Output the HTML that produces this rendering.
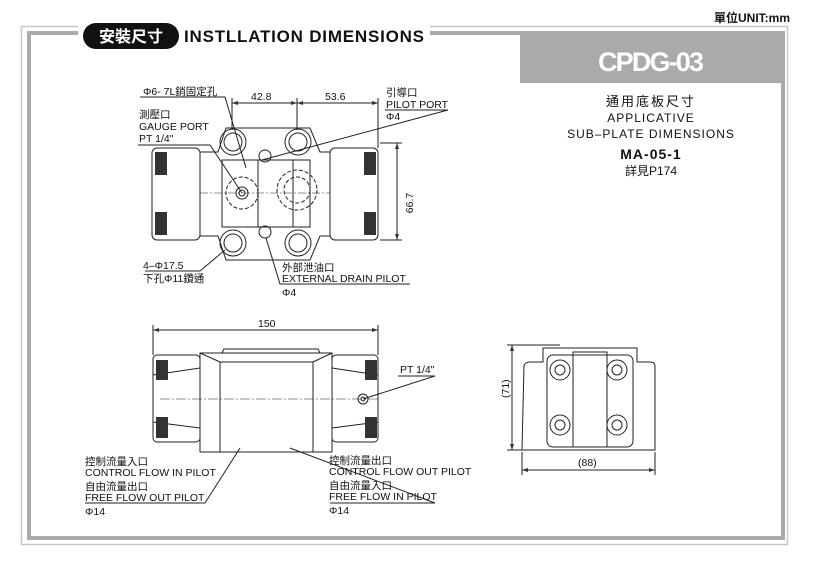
<!DOCTYPE html>
<html><head><meta charset="utf-8"><style>
body{margin:0;background:#fff;width:824px;height:572px;overflow:hidden}
svg text{font-family:"Liberation Sans","Noto Sans CJK TC",sans-serif;fill:#111}
</style></head><body>
<svg width="824" height="572" viewBox="0 0 824 572" xmlns="http://www.w3.org/2000/svg">
<!-- frame -->
<rect x="21.5" y="26.5" width="766" height="518" fill="none" stroke="#c8c8c8" stroke-width="1.5"/>
<rect x="29" y="33" width="754" height="505" fill="none" stroke="#aaa" stroke-width="4"/>
<rect x="78" y="20" width="352" height="30" fill="#fff"/>
<rect x="83" y="23" width="96" height="26" rx="13" fill="#111"/>
<text x="131" y="42" text-anchor="middle" font-size="16" font-weight="bold" style="fill:#fff">安裝尺寸</text>
<text x="184" y="42" font-size="17" font-weight="bold" textLength="240">INSTLLATION DIMENSIONS</text>
<text x="790" y="22" text-anchor="end" font-size="12" font-weight="bold">單位UNIT:mm</text>
<rect x="520" y="31" width="262" height="52" fill="#aaa"/>
<text x="651" y="71" text-anchor="middle" font-size="27" font-weight="bold" style="fill:#fff" textLength="106">CPDG-03</text>
<text x="651" y="106" text-anchor="middle" font-size="13" letter-spacing="2">通用底板尺寸</text>
<text x="651" y="122" text-anchor="middle" font-size="12" letter-spacing="1">APPLICATIVE</text>
<text x="651" y="138" text-anchor="middle" font-size="12" letter-spacing="1">SUB–PLATE DIMENSIONS</text>
<text x="651" y="159" text-anchor="middle" font-size="14" font-weight="bold" letter-spacing="1">MA-05-1</text>
<text x="651" y="175" text-anchor="middle" font-size="12">詳見P174</text>

<g fill="none" stroke="#222" stroke-width="1">
<!-- top view -->
<rect x="152" y="148" width="48" height="92" rx="5"/>
<rect x="330" y="148" width="48" height="92" rx="5"/>
<path d="M218 152 L226 128 L310 128 L320 152 L330 152 L330 236 L320 236 L310 260 L226 260 L218 236 L200 236 L200 152 Z"/>
<rect x="222" y="160" width="88" height="67"/>
<line x1="258" y1="160" x2="258" y2="227"/><line x1="293" y1="160" x2="293" y2="227"/>
<circle cx="233" cy="142" r="13"/><circle cx="233" cy="142" r="9"/>
<circle cx="298" cy="142" r="13"/><circle cx="298" cy="142" r="9"/>
<circle cx="233" cy="243" r="13"/><circle cx="233" cy="243" r="9"/>
<circle cx="298" cy="243" r="13"/><circle cx="298" cy="243" r="9"/>
<circle cx="242" cy="193" r="16" stroke-dasharray="4 2"/><circle cx="242" cy="193" r="6"/><circle cx="242" cy="193" r="3"/>
<circle cx="297" cy="190" r="20" stroke-dasharray="4 2"/><circle cx="297" cy="190" r="13" stroke-dasharray="4 2"/>
<circle cx="265" cy="156" r="6"/><circle cx="265" cy="232" r="6"/>
<line x1="200" y1="193" x2="330" y2="193" stroke-dasharray="8 2 2 2" stroke-width=".6"/>
<!-- dims -->
<line x1="232" y1="103" x2="378" y2="103"/>
<line x1="232" y1="98" x2="232" y2="130"/><line x1="297" y1="98" x2="297" y2="130"/><line x1="378" y1="98" x2="378" y2="148"/>
<line x1="397" y1="143" x2="397" y2="240"/><line x1="380" y1="143" x2="402" y2="143"/><line x1="380" y1="240" x2="402" y2="240"/>
<!-- leaders -->
<polyline points="140,97 225,97 246,168"/>
<polyline points="385,110 448,110 262,160"/>
<polyline points="138,145 210,145 242,193"/>
<polyline points="145,271 200,271 225,250"/>
<polyline points="410,284 280,284 266,238"/>
<!-- front view -->
<line x1="153" y1="330" x2="378" y2="330"/><line x1="153" y1="325" x2="153" y2="355"/><line x1="378" y1="325" x2="378" y2="355"/>
<rect x="153" y="355" width="47" height="87" rx="4"/>
<rect x="332" y="355" width="46" height="87" rx="4"/>
<path d="M153 375 L200 368 M153 422 L200 428 M378 375 L332 368 M378 422 L332 428"/>
<rect x="200" y="353" width="132" height="99"/>
<path d="M222 353 L224 349 L318 349 L320 353"/>
<rect x="220" y="362" width="93" height="90"/>
<path d="M200 353 L220 362 M332 353 L313 362"/>
<line x1="160" y1="399" x2="380" y2="399" stroke-dasharray="10 2 2 2" stroke-width=".6"/>
<circle cx="363" cy="399" r="5"/><circle cx="363" cy="399" r="2"/>
<polyline points="398,376 435,376 363,399"/>
<polyline points="85,503 205,503 240,448"/>
<polyline points="330,503 435,503 290,448"/>
<!-- side view -->
<path d="M522 450 L524 366 Q525 362 530 362 L543 362 L543 348 L637 348 L637 362 L650 362 Q655 362 655 366 L655 450 Z"/>
<rect x="547" y="355" width="86" height="92" rx="6"/>
<rect x="573" y="352" width="34" height="95"/>
<circle cx="560" cy="370" r="10"/><circle cx="560" cy="370" r="5"/>
<circle cx="617" cy="370" r="10"/><circle cx="617" cy="370" r="5"/>
<circle cx="560" cy="425" r="10"/><circle cx="560" cy="425" r="5"/>
<circle cx="617" cy="425" r="10"/><circle cx="617" cy="425" r="5"/>
<line x1="512" y1="345" x2="512" y2="450"/><line x1="507" y1="345" x2="560" y2="345"/><line x1="507" y1="450" x2="522" y2="450"/>
<line x1="522" y1="470" x2="655" y2="470"/><line x1="522" y1="452" x2="522" y2="475"/><line x1="655" y1="452" x2="655" y2="475"/>
</g>
<g fill="#333">
<rect x="155" y="152" width="12" height="23"/><rect x="155" y="212" width="12" height="23"/>
<rect x="364" y="152" width="12" height="23"/><rect x="364" y="212" width="12" height="23"/>
<rect x="156" y="360" width="12" height="20"/><rect x="156" y="417" width="12" height="21"/>
<rect x="365" y="360" width="12" height="20"/><rect x="365" y="417" width="12" height="21"/>
<path d="M232 103 l6 -2 v4z M297 103 l-6 -2 v4z M297 103 l6 -2 v4z M378 103 l-6 -2 v4z M397 143 l-2 6 h4z M397 240 l-2 -6 h4z M153 330 l6 -2 v4z M378 330 l-6 -2 v4z M512 345 l-2 6 h4z M512 450 l-2 -6 h4z M522 470 l6 -2 v4z M655 470 l-6 -2 v4z"/>
</g>
<g font-size="10.5">
<text x="143" y="95">Φ6- 7L銷固定孔</text>
<text x="251" y="100">42.8</text><text x="325" y="100">53.6</text>
<text x="386" y="96">引導口</text><text x="386" y="108">PILOT PORT</text><text x="386" y="120">Φ4</text>
<text x="139" y="118">測壓口</text><text x="139" y="130">GAUGE PORT</text><text x="139" y="142">PT 1/4"</text>
<text x="394" y="200" transform="rotate(-90 405 192)" text-anchor="middle">66.7</text>
<text x="143" y="269">4–Φ17.5</text><text x="143" y="282">下孔Φ11鑽通</text>
<text x="282" y="271">外部泄油口</text><text x="282" y="282">EXTERNAL DRAIN PILOT</text><text x="282" y="296">Φ4</text>
<text x="258" y="327">150</text>
<text x="400" y="373">PT 1/4"</text>
<text x="85" y="465">控制流量入口</text><text x="85" y="476">CONTROL FLOW IN PILOT</text>
<text x="85" y="490">自由流量出口</text><text x="85" y="501">FREE FLOW OUT PILOT</text><text x="85" y="515">Φ14</text>
<text x="329" y="464">控制流量出口</text><text x="329" y="475">CONTROL FLOW OUT PILOT</text>
<text x="329" y="489">自由流量入口</text><text x="329" y="500">FREE FLOW IN PILOT</text><text x="329" y="514">Φ14</text>
<text x="503" y="404" transform="rotate(-90 503 398)">(71)</text>
<text x="578" y="466">(88)</text>
</g>
</svg>
</body></html>
